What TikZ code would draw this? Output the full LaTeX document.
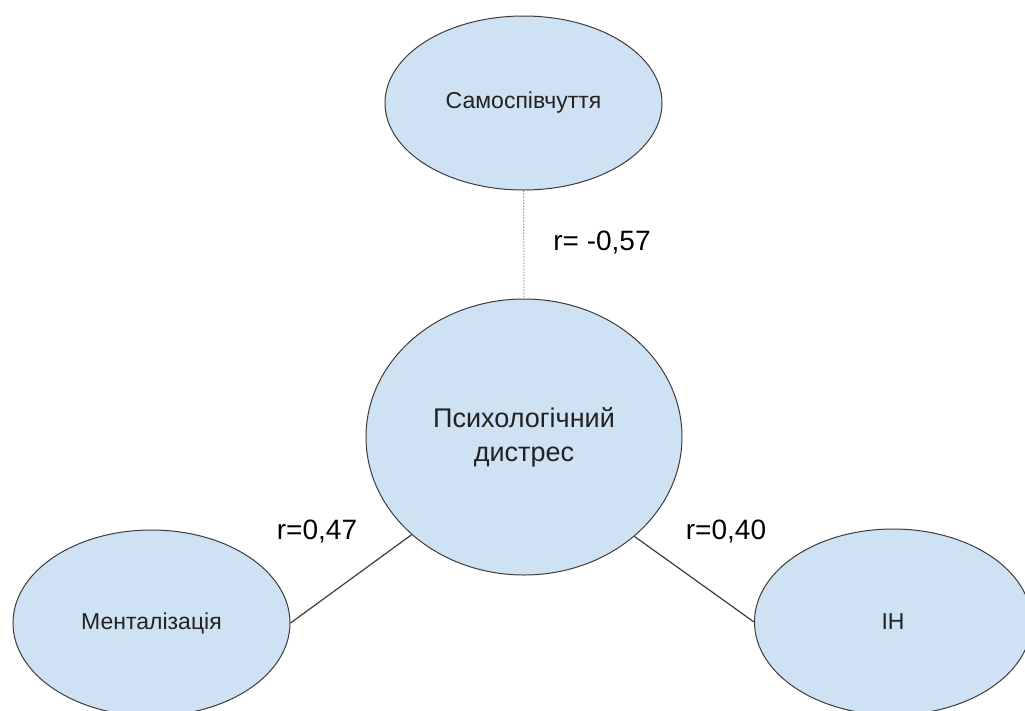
\documentclass[tikz,border=0pt]{standalone}
\usepackage{fontspec}
\setmainfont{Liberation Sans}
\usetikzlibrary{shapes.geometric}
\definecolor{nodefill}{HTML}{CFE2F3}
\definecolor{edgecol}{HTML}{3C3C3C}
\definecolor{textcol}{HTML}{222222}
\begin{document}
\begin{tikzpicture}[x=1pt,y=-1pt,
  oval/.style={ellipse, draw=edgecol, line width=1pt, fill=nodefill, inner sep=0pt,
    text=textcol, font=\fontsize{23}{34}\selectfont, align=center},
  bigoval/.style={oval, font=\fontsize{27}{34}\selectfont},
  link/.style={draw=edgecol, line width=1.2pt},
  dotlink/.style={draw=edgecol!80, line width=1pt, dash pattern=on 1pt off 2pt},
  corr/.style={font=\fontsize{28}{32}\selectfont, text=black, inner sep=0pt}]
\useasboundingbox (0,0) rectangle (1025,710);
\node[oval, minimum width=277pt, minimum height=174pt] (self) at (523.5,103) {Самоспівчуття};
\node[bigoval, minimum width=316pt, minimum height=276pt] (dist) at (524,437) {Психологічний\\дистрес};
\node[oval, minimum width=277pt, minimum height=186pt] (ment) at (151.5,623) {Менталізація};
\node[oval, minimum width=277pt, minimum height=186pt] (ih) at (893,622) {ІН};
\draw[dotlink] (self.south) -- (dist.north);
\draw[link] (ment.east) -- (dist.221);
\draw[link] (dist.318) -- (ih.west);
\node[corr] (l1) at (602,243) {r= -0,57};
\node[corr] (l2) at (317,532) {r=0,47};
\node[corr] (l3) at (726,532) {r=0,40};
\end{tikzpicture}
\end{document}
